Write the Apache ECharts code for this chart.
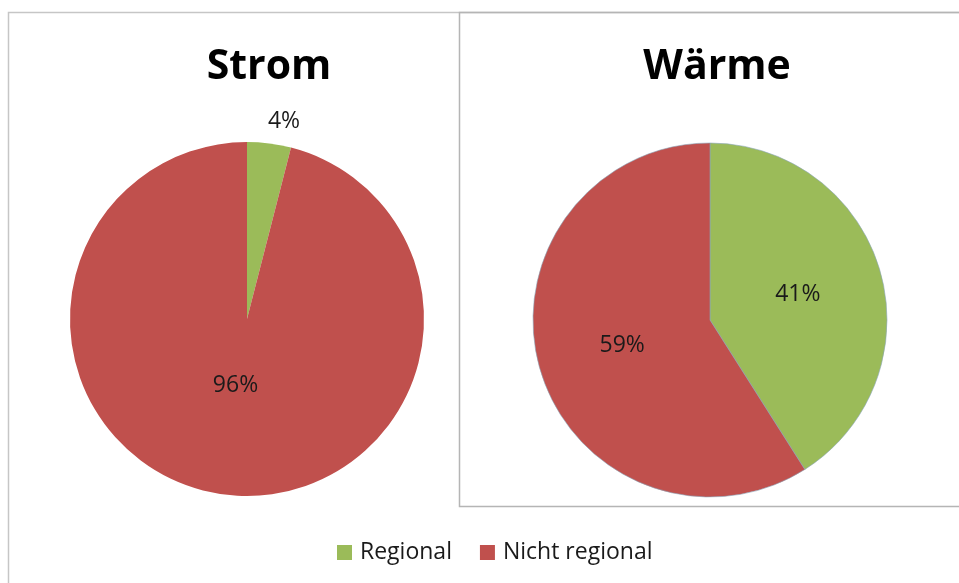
<!DOCTYPE html>
<html>
<head>
<meta charset="utf-8">
<script src="https://cdn.jsdelivr.net/npm/echarts@6/dist/echarts.min.js"></script>
<style>
  html, body { margin: 0; padding: 0; background: #fff; }
  #chart { width: 959px; height: 583px; }
</style>
</head>
<body>
<div id="chart"></div>
<script>
// data
const categories = ['Regional', 'Nicht regional'];
const chartTitles = ['Strom', 'Wärme'];
const stromValues = [4, 96];
const waermeValues = [41, 59];
const colors = ['#9bbb59', '#c0504d'];

const chart = echarts.init(document.getElementById('chart'));

function pieData(values) {
    return values.map((v, i) => ({ name: categories[i], value: v }));
}

const labelStyle = {
    show: true,
    position: 'inside',
    formatter: '{c}%',
    color: '#1a1a1a',
    fontFamily: 'Open Sans',
    fontSize: 23
};

const stromData = pieData(stromValues);
// the small slice carries its label outside, above the pie
stromData[0].label = { position: 'outside', distanceToLabelLine: -4 };
stromData[0].labelLine = { show: false, length: 22, length2: 0 };

const option = {
    animation: false,
    color: colors,
    title: [
        { text: chartTitles[0], left: 264, top: 62, textAlign: 'center', textVerticalAlign: 'middle' },
        { text: chartTitles[1], left: 712, top: 62, textAlign: 'center', textVerticalAlign: 'middle' }
    ].map(t => Object.assign(t, {
        textStyle: { fontFamily: 'Open Sans', fontWeight: 'bold', fontSize: 41, color: '#000' }
    })),
    legend: {
        data: categories,
        left: 332,
        top: 536,
        icon: 'rect',
        itemWidth: 15,
        itemHeight: 15,
        itemGap: 28,
        textStyle: { fontFamily: 'Open Sans', fontSize: 23, color: '#1a1a1a', padding: [0, 0, 0, 3] }
    },
    graphic: [
        { type: 'rect', shape: { x: 8.5, y: 12.5, width: 1000, height: 1000 }, style: { fill: 'none', stroke: '#c6c6c6', lineWidth: 1.5 }, silent: true },
        { type: 'rect', shape: { x: 459.5, y: 12.5, width: 600, height: 494 }, style: { fill: 'none', stroke: '#b5b5b5', lineWidth: 1.5 }, silent: true }
    ],
    series: [
        {
            name: chartTitles[0],
            type: 'pie',
            center: [247, 319],
            radius: 177,
            startAngle: 90,
            clockwise: true,
            avoidLabelOverlap: false,
            label: labelStyle,
            labelLine: { show: false },
            labelLayout: function (params) {
                // Excel puts the big slice label nearer the centre
                if (params.dataIndex === 1) return { dy: -24 };
                return {};
            },
            data: stromData
        },
        {
            name: chartTitles[1],
            type: 'pie',
            center: [710, 320],
            radius: 177,
            startAngle: 90,
            clockwise: true,
            avoidLabelOverlap: false,
            label: labelStyle,
            labelLine: { show: false },
            itemStyle: { borderColor: '#8aa5b8', borderWidth: 0.6 },
            data: pieData(waermeValues)
        }
    ]
};

chart.setOption(option);
</script>
</body>
</html>
